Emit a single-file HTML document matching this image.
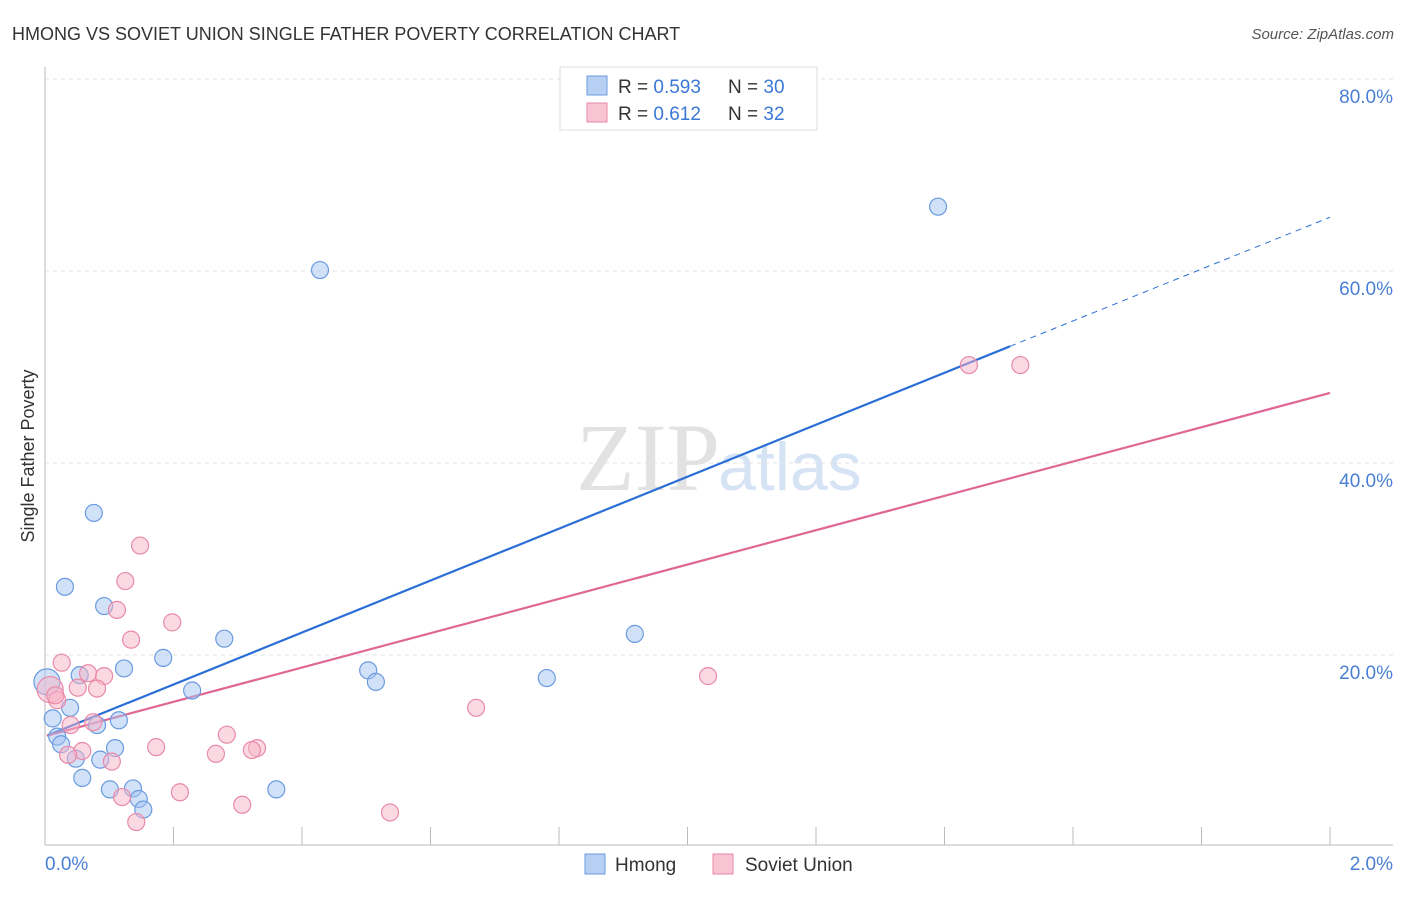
<!DOCTYPE html>
<html><head><meta charset="utf-8"><style>
body{margin:0;background:#fff;font-family:"Liberation Sans",sans-serif;}
</style></head><body>
<svg id="chart" width="1406" height="892" xmlns="http://www.w3.org/2000/svg">
<text x="12" y="40" font-size="18" fill="#333">HMONG VS SOVIET UNION SINGLE FATHER POVERTY CORRELATION CHART</text>
<text x="1394" y="39" font-size="15" fill="#555" font-style="italic" text-anchor="end">Source: ZipAtlas.com</text>
<text x="720" y="490" font-size="96" font-family="Liberation Serif,serif" fill="#e2e2e2" text-anchor="end">ZIP</text>
<text x="718" y="490" font-size="68" fill="#d6e3f5">atlas</text>
<text transform="translate(34,456) rotate(-90)" font-size="18" fill="#333" text-anchor="middle">Single Father Poverty</text>
<g id="grid"></g><g id="axes"></g><g id="trends"></g><g id="pts"></g>
<g>
<rect x="560" y="67" width="257" height="63" fill="#fff" stroke="#ddd"/>
<rect x="587" y="76" width="20" height="19" fill="#b6cff3" stroke="#6a9be0"/>
<rect x="587" y="103" width="20" height="19" fill="#f8c4d3" stroke="#e88aa8"/>
<text x="618" y="93" font-size="19" fill="#333">R = <tspan fill="#3a78d6">0.593</tspan></text>
<text x="728" y="93" font-size="19" fill="#333">N = <tspan fill="#3a78d6">30</tspan></text>
<text x="618" y="120" font-size="19" fill="#333">R = <tspan fill="#3a78d6"> 0.612</tspan></text>
<text x="728" y="120" font-size="19" fill="#333">N = <tspan fill="#3a78d6">32</tspan></text>
</g>
<g>
<rect x="585" y="854" width="20" height="20" fill="#b6cff3" stroke="#6a9be0"/>
<text x="615" y="871" font-size="19" fill="#333">Hmong</text>
<rect x="713" y="854" width="20" height="20" fill="#f8c4d3" stroke="#e88aa8"/>
<text x="745" y="871" font-size="19" fill="#333">Soviet Union</text>
</g>
</svg>
<script>
const yTicks=[20,40,60,80];
const xTickLabels=["0.0%","2.0%"];
const hmongX=[1.390,0.428,0.076,0.031,0.092,0.279,0.918,0.184,0.123,0.503,0.515,0.781,0.054,0.229,0.003,0.039,0.012,0.115,0.081,0.019,0.025,0.109,0.048,0.086,0.058,0.101,0.137,0.146,0.153,0.360];
const hmongY=[66.7,60.1,34.8,27.1,25.1,21.7,22.2,19.7,18.6,18.4,17.2,17.6,17.9,16.3,17.2,14.5,13.4,13.2,12.7,11.5,10.7,10.3,9.2,9.1,7.2,6.0,6.1,5.0,3.9,6.0];
const sovX=[1.438,1.518,0.148,0.125,0.112,0.198,0.134,0.026,0.067,0.092,0.051,0.081,0.008,0.019,0.075,0.040,1.032,0.671,0.283,0.173,0.330,0.322,0.266,0.058,0.036,0.104,0.120,0.210,0.307,0.142,0.537,0.016];
const sovY=[50.2,50.2,31.4,27.7,24.7,23.4,21.6,19.2,18.1,17.8,16.6,16.5,16.4,15.3,13.0,12.7,17.8,14.5,11.7,10.4,10.3,10.1,9.7,10.0,9.6,8.9,5.2,5.7,4.4,2.6,3.6,15.8];
const hmongTrend=[11.6,27.0];
const sovTrend=[11.6,17.85];
const NS="http://www.w3.org/2000/svg";
const X=v=>45+v*642.5, Y=v=>847-v*9.6;
function mk(p,t,a){const e=document.createElementNS(NS,t);for(const k in a)e.setAttribute(k,a[k]);document.getElementById(p).appendChild(e);return e;}
yTicks.forEach(t=>{
 const l=mk('grid','line',{x1:45,x2:1393,y1:Y(t),y2:Y(t),stroke:'#e3e3e3','stroke-dasharray':'4 4'});
 
 
 const tx=mk('grid','text',{x:1393,y:Y(t)+24,'font-size':19,fill:'#4a7fd4','text-anchor':'end'});
 tx.textContent=t.toFixed(1)+'%';
 
 
});
const ax=mk('axes','line',{x1:45,x2:1393,y1:845,y2:845,stroke:'#bbb'});


const ay=mk('axes','line',{x1:45,x2:45,y1:67,y2:845,stroke:'#bbb'});


for(let i=0;i<=10;i++){const t=mk('axes','line',{x1:X(i*0.2),x2:X(i*0.2),y1:827,y2:845,stroke:'#bbb'});
 
 }
[[0,'start',45],[2,'end',1393]].forEach((d,i)=>{const t=mk('axes','text',{x:d[2],y:870,'font-size':19,fill:'#4a7fd4','text-anchor':d[1]});t.textContent=xTickLabels[i];
 
 });
function trend(tr,col,solidEnd,name){
 const l=mk('trends','line',{x1:X(0.003),y1:Y(tr[0]),x2:X(solidEnd),y2:Y(tr[0]+tr[1]*solidEnd),stroke:col,'stroke-width':2.2});
 
 
 if(solidEnd<2){const d=mk('trends','line',{x1:X(solidEnd),y1:Y(tr[0]+tr[1]*solidEnd),x2:X(2),y2:Y(tr[0]+tr[1]*2),stroke:col,'stroke-width':1,'stroke-dasharray':'6 5'});
 
 }
}
trend(hmongTrend,'#2b6fd6',1.502,'hmong-trendline');
trend(sovTrend,'#e06795',2,'soviet-union-trendline');
function pts(xs,ys,fill,stroke,name){xs.forEach((x,i)=>{const c=mk('pts','circle',{cx:X(x),cy:Y(ys[i]),r:(x<0.01?13:8.5),fill:fill,stroke:stroke,'stroke-width':1.2});
 
 });}
pts(hmongX,hmongY,'rgba(164,196,240,0.5)','#6a9be0','hmong-point');
pts(sovX,sovY,'rgba(247,180,200,0.5)','#e88aa8','soviet-union-point');
</script>
</body></html>
